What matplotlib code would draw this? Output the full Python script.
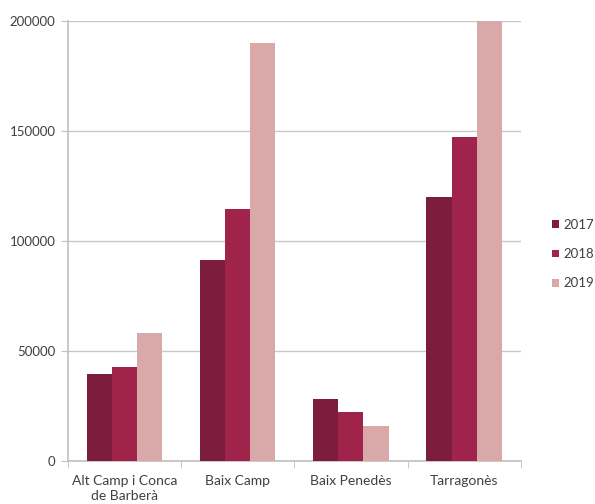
import numpy as np
import matplotlib.pyplot as plt

# Data
comarques = ["Alt Camp i Conca\nde Barberà", "Baix Camp", "Baix Penedès", "Tarragonès"]
anys = ["2017", "2018", "2019"]
v2017 = [39500, 91300, 28300, 119900]
v2018 = [43000, 114500, 22500, 147200]
v2019 = [58300, 189700, 16200, 200000]
colors = ["#7d1d3d", "#a0234c", "#d9a9aa"]

plt.rcParams["font.family"] = ["Lato", "DejaVu Sans"]

fig = plt.figure(figsize=(5.95, 5.04), dpi=100)
ax = fig.add_axes([68/595, 1-461.3/504, (520.7-68)/595, (461.3-20.7)/504])

x = np.arange(len(comarques))
w = 0.222
for i, vals in enumerate([v2017, v2018, v2019]):
    ax.bar(x + (i-1)*w, vals, w, color=colors[i], label=anys[i], zorder=3)

ax.set_xlim(-0.5, 3.5)
ax.set_ylim(0, 200000)
ax.set_yticks([0, 50000, 100000, 150000, 200000])
ax.grid(axis="y", color="#c8c8c8", lw=1, zorder=0)
ax.set_axisbelow(True)

ax.set_xticks(x)
ax.set_xticklabels(comarques, fontsize=10, color="#404040", linespacing=1.3)
ax.set_xticks(np.arange(-0.5, 4, 1), minor=True)
ax.tick_params(axis="x", which="major", length=0, pad=10)
ax.tick_params(axis="x", which="minor", length=5, color="#bfbfbf", direction="out")
ax.tick_params(axis="y", length=5, color="#bfbfbf", labelsize=9.5, labelcolor="#404040", pad=4)

for s in ["top", "right"]:
    ax.spines[s].set_visible(False)
for s in ["left", "bottom"]:
    ax.spines[s].set_color("#bfbfbf")
    ax.spines[s].set_linewidth(1.2)

fig.legend(loc="upper left", bbox_to_anchor=(552/595, 1-219/504), frameon=False,
           fontsize=9.5, handlelength=0.55, handleheight=0.55, handletextpad=0.3,
           labelspacing=1.3, labelcolor="#404040", borderpad=0, borderaxespad=0)

fig.savefig("out.png")
